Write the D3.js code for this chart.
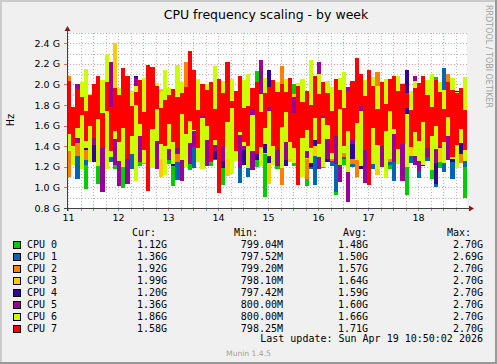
<!DOCTYPE html>
<html>
<head>
<meta charset="utf-8">
<script src="https://cdn.jsdelivr.net/npm/d3@7"></script>
<style>
  html, body { margin: 0; padding: 0; background: #f0f0f0; }
  svg { display: block; }
  .axis text { font-family: "DejaVu Sans", sans-serif; font-size: 9.5px; fill: #000; }
  .leyenda { font-family: "DejaVu Sans Mono", monospace; font-size: 10px; fill: #000; }
</style>
</head>
<body>
<svg width="497" height="364"></svg>
<script>
// valores por tramo de 2 horas (GHz): maximo y minimo que recorre cada linea
const cpu0High = [1.78,1.62,1.81,1.70,1.98,1.66,1.79,1.83,1.58,1.77,1.85,1.64, 1.80,1.69,1.82,1.60,1.79,1.86,1.67,1.78,1.81,1.63,1.77,1.84,
  1.59,1.79,1.68,1.82,1.61,1.80,1.72,1.65,1.83,1.78,1.60,1.81, 1.77,1.66,1.85,1.79,1.62,1.82,1.70,1.78,1.64,2.13,1.76,1.81,
  1.61,1.79,1.83,1.66,1.77,1.58,2.00,1.75,1.82,1.63,1.73,1.81, 1.68,1.84,1.60,1.79,1.75,1.82,1.65,1.73,1.80,1.62,1.85,1.74,
  1.79,1.64,1.82,1.69,1.78,1.81,1.60,1.83,1.77,1.66,1.73,1.79, 1.84,1.62,1.81,1.74,2.07,1.67,1.82,1.75,1.61,1.86,1.70,1.80];
const cpu0Low = [1.32,1.24,1.41,1.20,0.98,1.28,1.37,1.03,1.45,1.22,1.35,1.18, 1.40,0.99,1.30,1.26,1.47,1.21,1.33,1.44,1.19,1.29,1.38,1.42,
  1.23,1.01,1.36,1.27,1.43,1.17,1.31,1.48,1.25,1.39,1.21,1.34, 1.46,1.02,1.28,1.19,1.41,1.33,1.24,1.45,1.30,1.20,1.37,0.91,
  1.29,1.42,1.18,1.35,1.26,1.46,1.21,1.32,1.40,1.01,1.27,1.23, 1.44,1.19,1.38,1.30,0.93,1.36,1.22,1.43,1.28,1.17,1.34,1.25,
  1.41,1.32,1.20,1.46,1.27,1.18,1.39,1.24,1.35,0.93,1.42,1.29, 1.21,1.37,1.26,1.08,1.44,1.19,1.31,1.40,1.23,1.35,1.28,0.90];

const cpu1High = [1.82,1.66,1.85,1.71,1.88,1.63,1.83,1.74,1.86,1.60,1.81,1.89, 1.68,1.84,1.72,1.87,1.62,1.83,1.76,1.85,1.90,1.65,1.82,1.70,
  1.86,1.61,1.75,1.88,1.69,1.78,1.84,1.92,1.64,1.76,1.85,1.67, 1.79,1.87,1.63,1.77,1.84,1.70,1.89,1.75,1.61,1.86,1.78,1.66,
  1.85,1.72,1.88,1.62,1.82,1.84,1.68,1.87,1.77,1.83,1.64,1.79, 1.81,1.90,1.66,1.84,1.73,1.76,1.87,1.62,1.79,1.85,1.69,1.77,
  1.88,1.63,1.80,1.86,1.70,1.84,1.82,1.65,1.87,1.74,1.85,1.93, 1.67,1.83,1.77,1.86,1.61,1.84,2.16,1.82,1.69,1.85,1.73,1.83];
const cpu1Low = [1.38,1.27,1.08,1.44,1.22,1.35,1.29,1.47,1.19,1.40,1.25,1.33, 1.21,1.45,1.30,1.18,1.42,1.26,1.36,1.23,1.48,1.31,1.20,1.39,
  1.28,1.43,1.07,1.34,1.24,1.46,1.19,1.37,1.30,1.22,1.41,1.27, 1.35,1.20,1.44,1.29,1.38,1.04,1.25,1.10,1.42,1.33,1.21,1.36,
  1.24,1.47,1.30,1.19,1.40,1.27,1.35,1.22,1.45,1.31,1.18,1.02, 1.39,1.26,1.43,1.21,0.96,1.34,1.28,1.46,1.20,1.37,1.25,1.41,
  1.30,1.18,1.44,1.27,1.36,1.22,1.06,1.39,1.29,1.45,1.24,1.33, 1.09,1.40,1.26,1.35,1.00,1.43,1.15,1.31,1.08,1.38,1.27,1.20];

const cpu2High = [2.08,1.69,1.79,1.88,1.64,1.77,1.90,1.71,1.80,1.87,1.62,1.95, 1.73,1.86,1.66,1.89,1.84,1.68,1.92,1.75,1.87,1.63,1.85,1.90,
  1.70,1.78,1.88,1.65,2.22,1.81,1.72,1.79,1.86,1.91,1.67,1.80, 1.87,1.74,1.89,1.63,1.84,1.88,1.70,1.86,1.93,1.66,1.84,1.97,
  1.72,1.87,1.64,2.18,1.85,1.69,1.89,1.77,1.62,1.86,1.74,1.90, 1.85,1.67,1.87,1.76,1.63,1.91,1.86,1.70,1.84,1.95,1.68,1.87,
  1.75,1.85,2.12,1.66,1.88,1.81,1.71,1.90,1.84,1.64,1.87,1.78, 1.85,1.89,1.68,1.80,1.86,1.91,1.73,2.10,1.88,1.65,1.87,1.84];
const cpu2Low = [1.10,1.42,1.31,1.49,1.27,1.38,1.45,1.24,1.40,1.33,1.48,1.29, 1.36,1.44,1.26,1.41,1.30,1.47,1.23,1.39,1.34,1.46,1.28,1.43,
  1.32,1.48,1.25,1.37,1.42,1.29,1.45,1.35,1.27,1.40,1.33,1.47, 1.24,1.38,1.44,1.30,1.46,1.26,1.41,1.36,1.28,1.49,1.32,1.39,
  1.43,1.27,1.35,1.02,1.45,1.31,1.40,1.25,1.47,1.08,1.37,1.44, 1.29,1.42,1.34,1.26,1.48,1.39,1.30,1.45,1.23,1.10,1.41,1.35,
  1.27,1.46,1.32,1.38,1.44,1.25,1.40,1.33,1.47,1.29,1.36,1.42, 1.21,1.45,1.34,1.28,1.43,1.37,1.26,1.48,1.31,1.40,1.24,1.39];

const cpu3High = [1.88,1.70,1.95,1.66,1.86,1.91,1.73,1.77,1.89,1.64,1.80,2.40, 1.93,1.69,1.90,1.81,1.65,1.87,1.92,1.72,1.84,1.89,1.96,1.68,
  1.78,1.86,1.63,1.83,1.79,1.88,1.71,1.80,1.93,1.67,1.82,1.78, 1.90,1.66,1.89,1.81,1.74,1.92,1.69,1.85,1.83,1.90,1.64,1.80,
  1.94,1.72,1.79,1.88,1.65,1.86,1.91,1.70,1.85,1.89,1.67,1.78, 1.92,1.73,1.81,1.88,1.66,1.79,1.90,1.71,1.82,1.87,1.93,1.68,
  1.86,1.91,1.74,1.79,1.88,1.65,1.95,1.81,1.70,1.90,1.84,1.67, 1.92,1.75,1.82,1.69,1.89,1.80,1.93,1.72,1.81,1.88,1.66,1.90];
const cpu3Low = [1.44,1.31,1.47,1.26,1.39,1.45,1.28,1.42,1.35,1.49,1.30,1.37, 1.25,1.46,1.33,1.41,1.29,1.48,1.36,1.24,1.43,1.32,1.10,1.47,
  1.38,1.27,1.45,1.34,1.49,1.30,1.42,1.26,1.39,1.46,1.31,1.44, 1.36,1.28,1.11,1.48,1.33,1.40,1.27,1.45,1.37,1.29,1.47,1.32,
  1.03,1.43,1.30,1.46,1.36,1.25,1.41,1.34,1.48,1.28,1.44,1.31, 1.39,1.26,1.47,1.35,1.42,1.29,1.45,1.33,1.48,1.27,1.40,1.36,
  1.08,1.44,1.12,1.38,1.46,1.30,1.42,1.27,1.35,1.49,1.31,1.43, 1.37,1.28,1.46,1.33,1.40,1.25,1.44,1.36,1.47,1.29,1.41,1.34];

const cpu4High = [1.80,1.66,1.76,1.83,1.62,1.78,1.85,1.69,1.74,1.88,1.64,1.79, 1.86,1.93,1.67,1.84,2.08,1.72,1.75,1.89,1.63,1.78,1.86,1.68,
  1.92,1.65,1.84,1.73,1.88,1.61,1.82,1.86,1.97,1.70,1.83,1.88, 1.66,1.85,1.71,1.78,1.90,1.63,1.77,1.86,1.69,1.79,1.88,1.64,
  2.14,1.72,1.86,1.66,1.84,1.91,1.62,1.85,1.74,1.88,1.67,1.83, 1.87,1.70,1.95,1.64,1.84,1.89,1.68,1.77,1.86,1.63,1.79,1.92,
  1.71,1.80,1.87,1.65,1.78,1.85,1.90,1.67,1.77,2.14,1.73,1.80, 1.87,1.62,1.79,1.86,1.70,1.89,1.66,1.85,1.74,1.94,1.68,1.84];
const cpu4Low = [1.40,1.28,1.45,1.22,1.36,1.47,1.25,1.42,0.96,1.38,1.31,1.46, 1.27,1.43,1.03,1.35,1.24,1.48,1.33,1.20,1.41,1.29,1.44,1.26,
  1.37,1.21,1.46,1.32,1.40,1.25,1.43,1.30,1.23,1.47,1.34,1.28, 1.45,1.19,1.39,1.31,1.26,1.44,1.22,1.36,1.48,1.27,1.41,1.33,
  1.24,1.46,1.30,1.38,1.21,1.43,1.35,1.27,1.45,1.32,1.20,1.40, 1.29,1.47,1.25,1.37,1.42,1.23,1.34,1.46,1.28,1.39,1.18,1.44,
  1.31,1.26,1.43,1.35,1.22,1.47,1.30,1.40,1.24,1.38,1.45,1.27, 1.36,1.21,1.42,1.33,1.03,1.46,1.29,1.37,1.25,1.41,1.32,1.44];

const cpu5High = [1.85,1.68,2.00,1.72,1.63,1.90,1.75,1.86,1.67,1.92,2.22,1.70, 1.79,1.88,1.65,1.76,2.06,1.69,1.89,1.62,1.85,1.92,1.71,1.64,
  1.87,1.73,1.79,1.95,1.66,1.77,1.88,1.70,2.00,1.63,1.91,1.76, 1.86,1.68,1.79,1.93,1.65,1.78,1.89,1.72,1.96,1.64,2.24,1.80,
  1.87,1.66,1.78,1.92,1.70,1.80,1.88,1.63,1.90,1.74,1.79,1.94, 2.22,1.69,1.81,1.97,1.64,1.78,1.88,1.98,1.67,1.80,1.93,1.71,
  1.79,1.84,1.65,1.82,1.77,1.95,1.68,1.81,1.89,1.63,1.78,2.08, 1.72,1.80,1.92,1.66,1.79,1.96,1.70,1.82,1.90,1.64,1.79,1.88];
const cpu5Low = [1.36,1.24,1.43,1.20,1.47,1.30,1.41,1.26,0.96,1.38,1.45,1.22, 1.01,1.40,1.03,1.33,1.46,1.25,1.42,1.29,1.48,1.18,1.37,1.44,
  1.27,1.41,1.32,1.06,1.45,1.23,1.39,1.47,1.28,1.21,1.43,1.35, 1.48,1.26,1.40,1.31,1.44,1.19,1.36,1.46,1.17,1.38,1.25,1.42,
  1.30,1.45,1.21,1.43,1.27,1.39,1.47,1.24,1.41,1.29,1.35,1.46, 1.18,1.40,1.28,1.44,1.23,1.05,1.37,0.86,1.42,1.31,1.46,1.04,
  1.39,1.26,1.43,1.20,1.36,1.47,1.25,1.40,1.06,1.33,1.44,1.22, 1.16,1.41,1.30,1.46,1.24,1.38,1.43,1.27,1.40,1.19,1.45,1.32];

const cpu6High = [1.90,1.72,1.85,2.02,2.15,1.68,1.88,1.95,2.04,2.30,1.74,1.92, 1.97,1.66,2.03,1.94,1.99,1.70,2.06,1.95,1.73,2.01,1.93,2.14,
  1.97,1.69,2.19,2.02,1.71,1.89,1.98,2.05,1.67,2.00,1.96,2.18, 1.72,2.03,1.95,2.05,1.68,1.93,2.04,2.10,1.70,2.00,1.91,2.06,
  1.74,1.99,2.02,1.69,2.05,1.96,1.71,2.01,2.05,1.73,2.24,1.97, 2.10,1.67,2.03,1.98,1.72,2.06,2.12,1.69,2.00,2.18,1.74,2.04,
  1.70,2.07,1.99,1.73,2.05,1.98,1.68,2.08,2.01,1.71,1.94,2.03, 1.99,1.69,2.04,2.10,1.72,2.02,1.95,1.70,2.06,1.93,1.73,2.07];
const cpu6Low = [1.35,1.22,1.48,1.18,1.38,1.25,1.52,1.21,1.43,1.18,1.30,1.47, 1.26,1.20,1.41,1.32,1.06,1.50,1.24,1.39,1.19,1.45,1.28,1.12,
  1.37,1.23,1.49,1.27,1.20,1.43,1.55,1.25,1.18,1.46,1.30,1.41, 1.22,1.48,1.28,1.13,1.26,1.51,1.40,1.19,1.35,1.47,1.21,1.42,
  1.31,1.22,1.50,1.19,1.44,1.28,1.24,1.53,1.10,1.35,1.24,1.46, 1.30,1.20,1.47,1.28,1.53,1.22,1.33,1.15,1.49,1.27,1.21,1.44,
  1.40,1.23,1.18,1.48,1.09,1.28,1.52,1.23,1.42,1.20,1.45,1.31, 1.26,1.22,1.49,1.17,1.37,1.46,1.24,1.50,1.28,1.19,1.43,1.26];

const cpu7High = [2.03,1.78,1.96,1.88,1.74,1.90,2.00,2.08,1.72,2.02,1.78,1.97, 1.90,2.16,2.08,1.79,1.93,2.04,1.73,2.19,2.17,1.99,1.77,1.85,
  1.90,1.96,1.88,1.92,1.98,2.33,2.14,1.75,2.00,1.95,2.02,1.76, 2.05,1.92,2.22,1.84,1.94,2.08,1.77,1.79,1.97,2.02,1.73,1.92,
  1.98,2.04,1.93,2.00,1.93,2.06,1.72,1.99,1.83,1.94,1.80,2.08, 1.91,2.02,1.92,1.74,2.05,1.95,1.77,1.94,2.03,2.26,2.10,1.89,
  2.14,1.99,1.76,2.02,1.81,2.05,2.08,1.94,2.00,1.92,1.75,1.97, 2.01,2.08,1.90,1.78,2.04,1.93,1.76,2.02,1.95,1.92,1.97,1.75];
const cpu7Low = [1.52,1.40,1.58,1.70,1.45,1.60,1.48,1.66,1.38,1.74,1.35,1.55, 1.44,1.58,1.28,1.50,1.80,1.62,1.36,0.97,1.57,1.76,1.42,1.40,
  1.62,1.44,1.38,1.71,1.52,1.65,1.56,1.38,1.70,1.60,1.25,1.46, 0.95,1.40,1.64,1.77,1.35,1.54,1.44,1.40,1.76,1.32,1.39,1.58,
  1.78,1.40,1.36,1.59,1.73,1.44,1.38,1.02,1.48,1.56,1.38,1.67, 1.42,1.69,1.61,1.33,1.50,1.76,1.40,1.55,1.46,1.63,1.79,1.36,
  1.02,1.58,1.41,1.40,1.55,1.74,1.57,1.37,1.42,1.77,1.39,1.54, 1.45,1.64,1.38,1.50,1.60,1.40,1.44,1.68,1.30,1.41,1.57,1.36];

// leyenda
const nombres = ["CPU 0", "CPU 1", "CPU 2", "CPU 3", "CPU 4", "CPU 5", "CPU 6", "CPU 7"];
const colores = ["#00cc00", "#0066b3", "#ff8000", "#ffcc00", "#330099", "#990099", "#ccff00", "#ff0000"];
const actual = ["1.12G", "1.36G", "1.92G", "1.99G", "1.20G", "1.36G", "1.86G", "1.58G"];
const minimo = ["799.04M", "797.52M", "799.20M", "798.10M", "797.42M", "800.00M", "800.00M", "798.25M"];
const promedio = ["1.48G", "1.50G", "1.57G", "1.64G", "1.59G", "1.60G", "1.66G", "1.71G"];
const maximo = ["2.70G", "2.69G", "2.70G", "2.70G", "2.70G", "2.70G", "2.70G", "2.70G"];

// ticks del eje Y (GHz)
const ticksMayores = [0.8, 1.0, 1.2, 1.4, 1.6, 1.8, 2.0, 2.2, 2.4];
const ticksMenores = [0.9, 1.1, 1.3, 1.5, 1.7, 1.9, 2.1, 2.3, 2.5];

const altos = [cpu0High, cpu1High, cpu2High, cpu3High, cpu4High, cpu5High, cpu6High, cpu7High];
const bajos = [cpu0Low, cpu1Low, cpu2Low, cpu3Low, cpu4Low, cpu5Low, cpu6Low, cpu7Low];

const svg = d3.select("svg");

const inicio = new Date(2026, 3, 11, 11, 30); // 8 dias hasta la ultima actualizacion
const fin = d3.timeDay.offset(inicio, 8);
const pasoHoras = 2;

const x = d3.scaleTime().domain([inicio, fin]).range([67, 467]);
const y = d3.scaleLinear().domain([0.8, 2.5]).range([208, 33]);
const [x0, x1] = x.range();
const [yAbajo, yArriba] = y.range();

// fondo y marco
svg.append("rect").attr("width", 497).attr("height", 364).attr("fill", "#f0f0f0");
svg.append("rect").attr("width", 497).attr("height", 2).attr("fill", "#cbcbcb");
svg.append("rect").attr("width", 2).attr("height", 364).attr("fill", "#cbcbcb");
svg.append("rect").attr("y", 362).attr("width", 497).attr("height", 2).attr("fill", "#999999");
svg.append("rect").attr("x", 495).attr("width", 2).attr("height", 364).attr("fill", "#999999");

// area del grafico
svg.append("rect")
  .attr("x", x0).attr("y", yArriba)
  .attr("width", x1 - x0).attr("height", yAbajo - yArriba)
  .attr("fill", "#ffffff");

// rejilla
const rejilla = svg.append("g").attr("shape-rendering", "crispEdges").attr("stroke-dasharray", "1,2");
const dias = d3.timeDay.range(inicio, fin);
const horas = d3.timeHour.every(6).range(inicio, fin).filter(d => d.getHours() !== 0);

rejilla.selectAll(".vmenor").data(horas).enter().append("line")
  .attr("x1", d => Math.round(x(d)) + 0.5).attr("x2", d => Math.round(x(d)) + 0.5)
  .attr("y1", yArriba).attr("y2", yAbajo)
  .attr("stroke", "rgba(128,128,128,0.55)");
rejilla.selectAll(".hmenor").data(ticksMenores).enter().append("line")
  .attr("x1", x0).attr("x2", x1)
  .attr("y1", d => Math.round(y(d)) + 0.5).attr("y2", d => Math.round(y(d)) + 0.5)
  .attr("stroke", "rgba(128,128,128,0.55)");
rejilla.selectAll(".vmayor").data(dias).enter().append("line")
  .attr("x1", d => Math.round(x(d)) + 0.5).attr("x2", d => Math.round(x(d)) + 0.5)
  .attr("y1", yArriba).attr("y2", yAbajo)
  .attr("stroke", "rgba(224,80,80,0.6)");
rejilla.selectAll(".hmayor").data(ticksMayores).enter().append("line")
  .attr("x1", x0).attr("x2", x1)
  .attr("y1", d => Math.round(y(d)) + 0.5).attr("y2", d => Math.round(y(d)) + 0.5)
  .attr("stroke", "rgba(224,80,80,0.6)");

// series: cada tramo va del minimo al maximo de la linea
const tiempo = i => d3.timeHour.offset(inicio, i * pasoHoras);
const datos = svg.append("g").attr("shape-rendering", "crispEdges");
altos.forEach((serie, s) => {
  const filas = serie.map((v, i) => ({ t0: tiempo(i), t1: tiempo(i + 1), alto: v, bajo: bajos[s][i] }));
  datos.append("g").selectAll("rect")
    .data(filas).enter().append("rect")
    .attr("x", d => Math.round(x(d.t0)))
    .attr("width", d => Math.round(x(d.t1)) - Math.round(x(d.t0)))
    .attr("y", d => Math.round(y(d.alto)))
    .attr("height", d => Math.max(1, Math.round(y(d.bajo)) - Math.round(y(d.alto))))
    .attr("fill", colores[s]);
});

// ejes con etiquetas (dias al mediodia)
const mediodias = dias.map(d => d3.timeHour.offset(d, -12));
const ejeX = svg.append("g").attr("class", "axis")
  .attr("transform", `translate(0,${yAbajo})`)
  .call(d3.axisBottom(x).tickValues(mediodias).tickFormat(d3.timeFormat("%d")).tickSize(0).tickPadding(6));
ejeX.select(".domain").remove();

const ejeY = svg.append("g").attr("class", "axis")
  .attr("transform", `translate(${x0},0)`)
  .call(d3.axisLeft(y).tickValues(ticksMayores).tickFormat(d => d3.format(".1f")(d) + " G").tickSize(0).tickPadding(7));
ejeY.select(".domain").remove();

// marcas pequenas de los ejes
const marcas = svg.append("g").attr("shape-rendering", "crispEdges");
marcas.selectAll(".mx").data(horas).enter().append("line")
  .attr("x1", d => Math.round(x(d)) + 0.5).attr("x2", d => Math.round(x(d)) + 0.5)
  .attr("y1", yAbajo).attr("y2", yAbajo + 3).attr("stroke", "#999");
marcas.selectAll(".Mx").data(dias).enter().append("line")
  .attr("x1", d => Math.round(x(d)) + 0.5).attr("x2", d => Math.round(x(d)) + 0.5)
  .attr("y1", yAbajo).attr("y2", yAbajo + 3).attr("stroke", "#e07070");
marcas.selectAll(".My").data(ticksMayores).enter().append("line")
  .attr("x1", x0 - 3).attr("x2", x0)
  .attr("y1", d => Math.round(y(d)) + 0.5).attr("y2", d => Math.round(y(d)) + 0.5)
  .attr("stroke", "#e07070");

// lineas de eje y flechas
svg.append("line")
  .attr("x1", x0 - 3).attr("x2", x1 + 2)
  .attr("y1", yAbajo + 0.5).attr("y2", yAbajo + 0.5)
  .attr("stroke", "#404040").attr("shape-rendering", "crispEdges");
svg.append("line")
  .attr("x1", x0 + 0.5).attr("x2", x0 + 0.5)
  .attr("y1", yAbajo + 3).attr("y2", yArriba - 2)
  .attr("stroke", "#404040").attr("shape-rendering", "crispEdges");
svg.append("path")
  .attr("d", `M${x1 + 2},${yAbajo - 2.5}L${x1 + 7},${yAbajo + 0.5}L${x1 + 2},${yAbajo + 3.5}Z`)
  .attr("fill", "#8b1a1a");
svg.append("path")
  .attr("d", `M${x0 - 2.5},${yArriba - 2}L${x0 + 0.5},${yArriba - 7}L${x0 + 3.5},${yArriba - 2}Z`)
  .attr("fill", "#8b1a1a");

// titulo
svg.append("text")
  .attr("x", 266).attr("y", 19)
  .attr("text-anchor", "middle")
  .style("font-family", "DejaVu Sans, sans-serif").style("font-size", "12.5px")
  .text("CPU frequency scaling - by week");

// unidad
svg.append("text")
  .attr("transform", "translate(14,120) rotate(-90)")
  .attr("text-anchor", "middle")
  .style("font-family", "DejaVu Sans, sans-serif").style("font-size", "9.7px")
  .text("Hz");

// marca de agua lateral
svg.append("text")
  .attr("transform", "translate(486,5) rotate(90)")
  .style("font-family", "DejaVu Sans, sans-serif").style("font-size", "8px")
  .attr("fill", "#a0a0a0")
  .text("RRDTOOL / TOBI OETIKER");

// leyenda
const leyenda = svg.append("g");
leyenda.append("text").attr("class", "leyenda").attr("x", 132).attr("y", 236).text("Cur:");
leyenda.append("text").attr("class", "leyenda").attr("x", 234).attr("y", 236).text("Min:");
leyenda.append("text").attr("class", "leyenda").attr("x", 343).attr("y", 236).text("Avg:");
leyenda.append("text").attr("class", "leyenda").attr("x", 447).attr("y", 236).text("Max:");

const filasLeyenda = leyenda.selectAll(".fila").data(nombres).enter().append("g")
  .attr("transform", (d, i) => `translate(0,${248 + i * 12})`);
filasLeyenda.append("rect")
  .attr("x", 13.5).attr("y", -6.5).attr("width", 7).attr("height", 7)
  .attr("fill", (d, i) => colores[i]).attr("stroke", "#000").attr("stroke-width", 1);
filasLeyenda.append("text").attr("class", "leyenda").attr("x", 27).text(d => d);
filasLeyenda.append("text").attr("class", "leyenda").attr("x", 167).attr("text-anchor", "end").text((d, i) => actual[i]);
filasLeyenda.append("text").attr("class", "leyenda").attr("x", 283).attr("text-anchor", "end").text((d, i) => minimo[i]);
filasLeyenda.append("text").attr("class", "leyenda").attr("x", 368).attr("text-anchor", "end").text((d, i) => promedio[i]);
filasLeyenda.append("text").attr("class", "leyenda").attr("x", 483).attr("text-anchor", "end").text((d, i) => maximo[i]);

leyenda.append("text").attr("class", "leyenda")
  .attr("x", 483).attr("y", 342).attr("text-anchor", "end")
  .text("Last update: Sun Apr 19 10:50:02 2026");

svg.append("text")
  .attr("x", 248.5).attr("y", 356).attr("text-anchor", "middle")
  .style("font-family", "DejaVu Sans, sans-serif").style("font-size", "7.6px")
  .attr("fill", "#a0a0a0")
  .text("Munin 1.4.5");
</script>
</body>
</html>
